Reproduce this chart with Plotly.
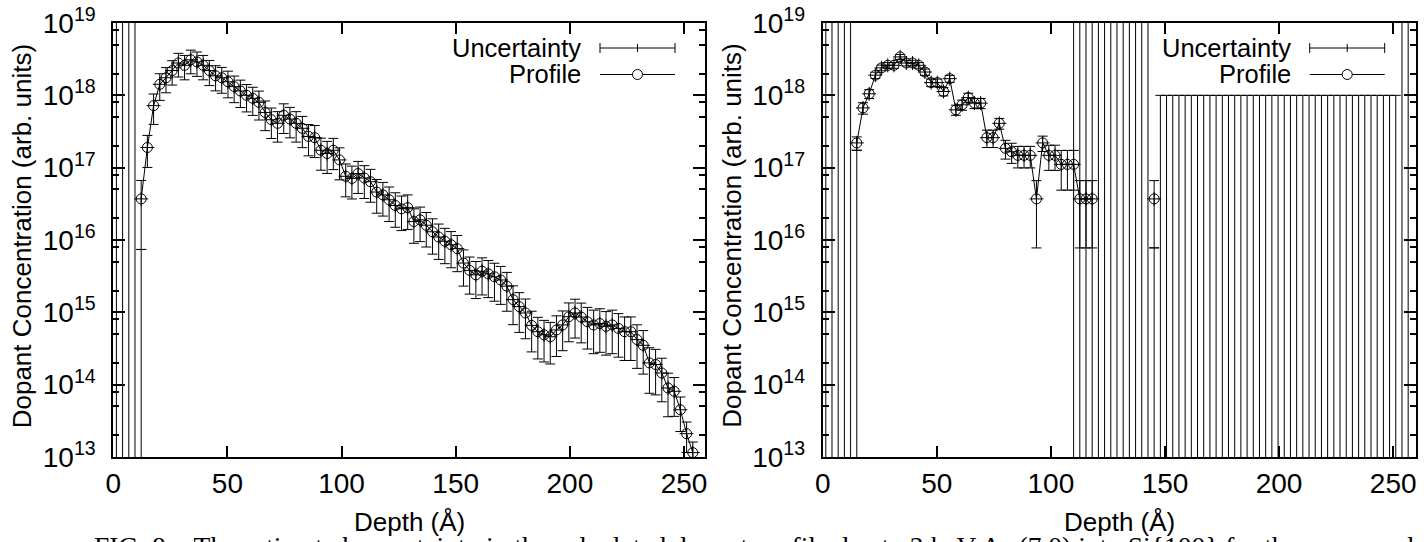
import plotly.graph_objects as go

W, H = 1428, 542
INF = float("inf")

# ---------------- data ----------------
# depth bin centres (Angstrom)
depth = [1.36, 4.07, 6.79, 9.50, 12.22, 14.93, 17.65, 20.36, 23.08, 25.79,
         28.51, 31.22, 33.94, 36.65, 39.37, 42.08, 44.80, 47.51, 50.23, 52.94,
         55.66, 58.37, 61.09, 63.80, 66.52, 69.23, 71.95, 74.66, 77.38, 80.09,
         82.81, 85.52, 88.24, 90.95, 93.67, 96.38, 99.10, 101.81, 104.53, 107.24,
         109.96, 112.67, 115.39, 118.10, 120.82, 123.53, 126.25, 128.96, 131.68, 134.39,
         137.11, 139.82, 142.54, 145.25, 147.97, 150.68, 153.40, 156.11, 158.83, 161.54,
         164.26, 166.97, 169.69, 172.40, 175.12, 177.83, 180.55, 183.26, 185.98, 188.69,
         191.41, 194.12, 196.84, 199.55, 202.27, 204.98, 207.70, 210.41, 213.13, 215.84,
         218.56, 221.27, 223.99, 226.70, 229.42, 232.13, 234.85, 237.56, 240.28, 242.99,
         245.71, 248.42, 251.14, 253.85, 256.57]

# left panel: profile and relative uncertainty
left_profile = [None, None, None, None, 3.7e16, 1.9e17, 7.2e17, 1.42e18, 1.75e18, 2.2e18,
                2.8e18, 2.6e18, 3.1e18, 2.9e18, 2.6e18, 2.2e18, 1.86e18, 1.75e18, 1.54e18, 1.32e18,
                1.15e18, 1.0e18, 9.1e17, 8.0e17, 5.8e17, 4.6e17, 4.1e17, 5.3e17, 4.7e17, 4.1e17,
                3.5e17, 2.7e17, 2.6e17, 1.74e17, 1.57e17, 1.74e17, 1.28e17, 7.6e16, 7.1e16, 8.3e16,
                7.2e16, 6.4e16, 4.6e16, 4.2e16, 3.6e16, 3.0e16, 2.7e16, 2.8e16, 1.8e16, 1.9e16,
                1.6e16, 1.3e16, 1.1e16, 9.6e15, 8.6e15, 7.6e15, 4.8e15, 3.8e15, 3.3e15, 3.7e15,
                3.4e15, 3.1e15, 2.8e15, 2.3e15, 1.5e15, 1.2e15, 9.8e14, 6.6e14, 5.4e14, 4.9e14,
                4.6e14, 5.7e14, 6.7e14, 8.7e14, 9.8e14, 8.6e14, 7.4e14, 6.7e14, 7.0e14, 6.4e14,
                6.7e14, 6.0e14, 5.4e14, 5.4e14, 4.2e14, 3.5e14, 2.0e14, 1.9e14, 1.45e14, 9.0e13,
                8.1e13, 4.5e13, 2.1e13, 1.15e13, None]
left_rel_err = [None, None, None, None, 0.80, 0.47, 0.45, 0.40, 0.38, 0.37,
                0.36, 0.37, 0.36, 0.37, 0.37, 0.38, 0.38, 0.39, 0.40, 0.40,
                0.41, 0.41, 0.42, 0.43, 0.44, 0.45, 0.45, 0.44, 0.45, 0.45,
                0.46, 0.46, 0.47, 0.47, 0.47, 0.46, 0.47, 0.48, 0.48, 0.47,
                0.48, 0.48, 0.49, 0.49, 0.50, 0.50, 0.50, 0.50, 0.50, 0.50,
                0.50, 0.51, 0.51, 0.51, 0.52, 0.52, 0.52, 0.53, 0.53, 0.53,
                0.53, 0.54, 0.54, 0.55, 0.55, 0.56, 0.56, 0.57, 0.58, 0.58,
                0.58, 0.57, 0.56, 0.55, 0.55, 0.56, 0.58, 0.60, 0.60, 0.60,
                0.60, 0.60, 0.60, 0.60, 0.60, 0.60, 0.62, 0.62, 0.60, 0.60,
                0.55, 0.50, 0.45, 0.40, None]
# bins whose uncertainty bar runs off the bottom of the axis (top end; INF = off the top too)
left_open_bins = [0, 1, 2, 3, 4]
left_open_top = [INF, INF, INF, INF, 7.4e15]

# right panel
right_profile = [None, None, None, None, None, 2.2e17, 6.7e17, 1.05e18, 1.9e18, 2.4e18,
                 2.6e18, 2.6e18, 3.4e18, 2.8e18, 2.8e18, 2.6e18, 2.1e18, 1.5e18, 1.5e18, 1.13e18,
                 1.7e18, 6.3e17, 7.4e17, 9.3e17, 7.8e17, 7.8e17, 2.6e17, 2.6e17, 4.1e17, 1.85e17,
                 1.66e17, 1.48e17, 1.48e17, 1.48e17, 3.7e16, 2.2e17, 1.48e17, 1.48e17, 1.11e17, 1.11e17,
                 1.11e17, 3.7e16, 3.7e16, 3.7e16, None, None, None, None, None, None,
                 None, None, None, 3.7e16] + [None] * 41
right_rel_err = [None, None, None, None, None, 0.21, 0.18, 0.14, 0.10, 0.09,
                 0.09, 0.09, 0.08, 0.09, 0.09, 0.09, 0.10, 0.12, 0.12, 0.13,
                 0.11, 0.16, 0.16, 0.15, 0.16, 0.16, 0.27, 0.27, 0.17, 0.29,
                 0.31, 0.33, 0.33, 0.33, 0.79, 0.24, 0.38, 0.38, 0.56, 0.56,
                 0.56, 0.79, 0.79, 0.79, None, None, None, None, None, None,
                 None, None, None, 0.79] + [None] * 41
right_open_bins = [0, 1, 2, 3, 4, 5] + list(range(40, 95))
right_open_top = ([INF] * 5 + [1.74e17] + [INF] * 13 + [7.8e15]
                  + [1.0e18] * 39 + [INF] * 2)

xticks = [0, 50, 100, 150, 200, 250]
ydecades = [13, 14, 15, 16, 17, 18, 19]
yticklabels = ["10<sup>%d</sup>" % d for d in ydecades]
yminor = [m * 10.0 ** d for d in ydecades[:-1] for m in (2, 5, 8)]
Y_TOP = 10.0 ** ydecades[-1]

# ---------------- geometry ----------------
def px(x):
    return x / W

def py(y):
    return 1 - y / H

FONT = "Liberation Sans"
panels = [
    dict(xa="x", ya="y", xdom=(113.3, 705.0), xmax=259.2,
         prof=left_profile, err=left_rel_err,
         open_bins=left_open_bins, open_top=left_open_top, leg_x=583.0),
    dict(xa="x2", ya="y2", xdom=(822.7, 1416.0), xmax=260.0,
         prof=right_profile, err=right_rel_err,
         open_bins=right_open_bins, open_top=right_open_top, leg_x=1292.7),
]
Y_DOM = (py(457.0), py(23.0))

fig = go.Figure()
shapes, annotations = [], []

for i, p in enumerate(panels):
    # open-ended uncertainty bars (run off the bottom, maybe also the top)
    ox, oy, op, om = [], [], [], []
    for b, top in zip(p["open_bins"], p["open_top"]):
        anchor = Y_TOP if top == INF else top
        ox.append(depth[b])
        oy.append(anchor)
        op.append(9 * Y_TOP if top == INF else 0.0)
        om.append(2 * anchor)
    fig.add_trace(go.Scatter(
        x=ox, y=oy, mode="markers", marker=dict(size=1, opacity=0),
        error_y=dict(type="data", symmetric=False, array=op, arrayminus=om,
                     color="black", thickness=1, width=5),
        xaxis=p["xa"], yaxis=p["ya"], showlegend=False, hoverinfo="skip"))

    # uncertainty points with error bars
    ux, uy, ue = [], [], []
    for d, v, r in zip(depth, p["prof"], p["err"]):
        if v is not None:
            ux.append(d)
            uy.append(v)
            ue.append(v * r)
    fig.add_trace(go.Scatter(
        x=ux, y=uy, mode="markers", name="Uncertainty",
        marker=dict(symbol="cross-thin-open", size=10, color="black",
                    line=dict(color="black", width=1)),
        error_y=dict(type="data", array=ue, color="black", thickness=1, width=5),
        xaxis=p["xa"], yaxis=p["ya"], showlegend=False))

    # profile
    fig.add_trace(go.Scatter(
        x=depth, y=p["prof"], mode="lines+markers", name="Profile",
        line=dict(color="black", width=1),
        marker=dict(symbol="circle-open", size=10, color="black",
                    line=dict(color="black", width=1)),
        connectgaps=False,
        xaxis=p["xa"], yaxis=p["ya"], showlegend=False))

    sfx = "" if i == 0 else str(i + 1)
    x0, x1 = p["xdom"]
    fig.layout["xaxis" + sfx] = dict(
        domain=[px(x0), px(x1)], range=[0, p["xmax"]], anchor="y" + sfx,
        tickmode="array", tickvals=xticks, ticks="inside", ticklen=11,
        tickwidth=1.5, tickcolor="black", showline=True, linewidth=2,
        linecolor="black", mirror="ticks", showgrid=False, zeroline=False,
        tickfont=dict(family=FONT, size=28, color="black"),
        ticklabelstandoff=0, automargin=False)
    fig.layout["yaxis" + sfx] = dict(
        domain=list(Y_DOM), type="log", range=[ydecades[0], ydecades[-1]],
        anchor="x" + sfx, tickmode="array",
        tickvals=[10.0 ** d for d in ydecades], ticktext=yticklabels,
        ticks="inside", ticklen=12, tickwidth=1.5, tickcolor="black",
        minor=dict(tickmode="array", tickvals=yminor, ticks="inside",
                   ticklen=6, tickwidth=1.5, tickcolor="black", showgrid=False),
        showline=True, linewidth=2, linecolor="black", mirror="ticks",
        showgrid=False, zeroline=False,
        tickfont=dict(family=FONT, size=28, color="black"),
        ticklabelstandoff=10, automargin=False)

    # axis titles
    annotations.append(dict(
        text="Depth (Å)", x=px((x0 + x1) / 2), y=py(522), xref="paper", yref="paper",
        xanchor="center", yanchor="middle", showarrow=False,
        font=dict(family=FONT, size=26, color="black")))
    annotations.append(dict(
        text="Dopant Concentration (arb. units)", x=px(x0 - 91), y=py(236),
        xref="paper", yref="paper", xanchor="center", yanchor="middle",
        textangle=-90, showarrow=False,
        font=dict(family=FONT, size=26, color="black")))

    # legend (gnuplot style: text on the left, sample on the right)
    lx = p["leg_x"]
    s0, s1 = lx + 17, lx + 92
    sc = (s0 + s1) / 2
    for label, yy in (("Uncertainty", 48.0), ("Profile", 74.5)):
        annotations.append(dict(
            text=label, x=px(lx), y=py(yy), xref="paper", yref="paper",
            xanchor="right", yanchor="middle", showarrow=False,
            font=dict(family=FONT, size=25.5, color="black")))
    ln = dict(color="black", width=1)
    shapes += [
        dict(type="line", xref="paper", yref="paper", x0=px(s0), x1=px(s1), y0=py(48), y1=py(48), line=ln),
        dict(type="line", xref="paper", yref="paper", x0=px(s0), x1=px(s0), y0=py(43), y1=py(53), line=ln),
        dict(type="line", xref="paper", yref="paper", x0=px(s1), x1=px(s1), y0=py(43), y1=py(53), line=ln),
        dict(type="line", xref="paper", yref="paper", x0=px(sc), x1=px(sc), y0=py(44), y1=py(52), line=ln),
        dict(type="line", xref="paper", yref="paper", x0=px(s0), x1=px(s1), y0=py(74.5), y1=py(74.5), line=ln),
        dict(type="circle", xref="paper", yref="paper", x0=px(sc - 5), x1=px(sc + 5),
             y0=py(79.5), y1=py(69.5), line=ln, fillcolor="white"),
    ]

# clipped caption at the bottom
annotations.append(dict(
    text="FIG. 8:\u00a0\u00a0 The estimated uncertainty in the calculated dopant profile due to 3 keV As (7,0) into Si{100} for the upper and",
    x=px(92), y=py(546), xref="paper", yref="paper", xanchor="left", yanchor="middle",
    showarrow=False, font=dict(family="Liberation Serif", size=27.5, color="black")))

fig.update_layout(
    template="none",
    width=W, height=H, margin=dict(l=0, r=0, t=0, b=0, autoexpand=False),
    paper_bgcolor="white", plot_bgcolor="white", showlegend=False,
    shapes=shapes, annotations=annotations,
    font=dict(family=FONT, color="black"))

fig.write_html("out.html", config={"displayModeBar": False},
               post_script="document.body.style.margin='0px';document.body.style.overflow='hidden';")
